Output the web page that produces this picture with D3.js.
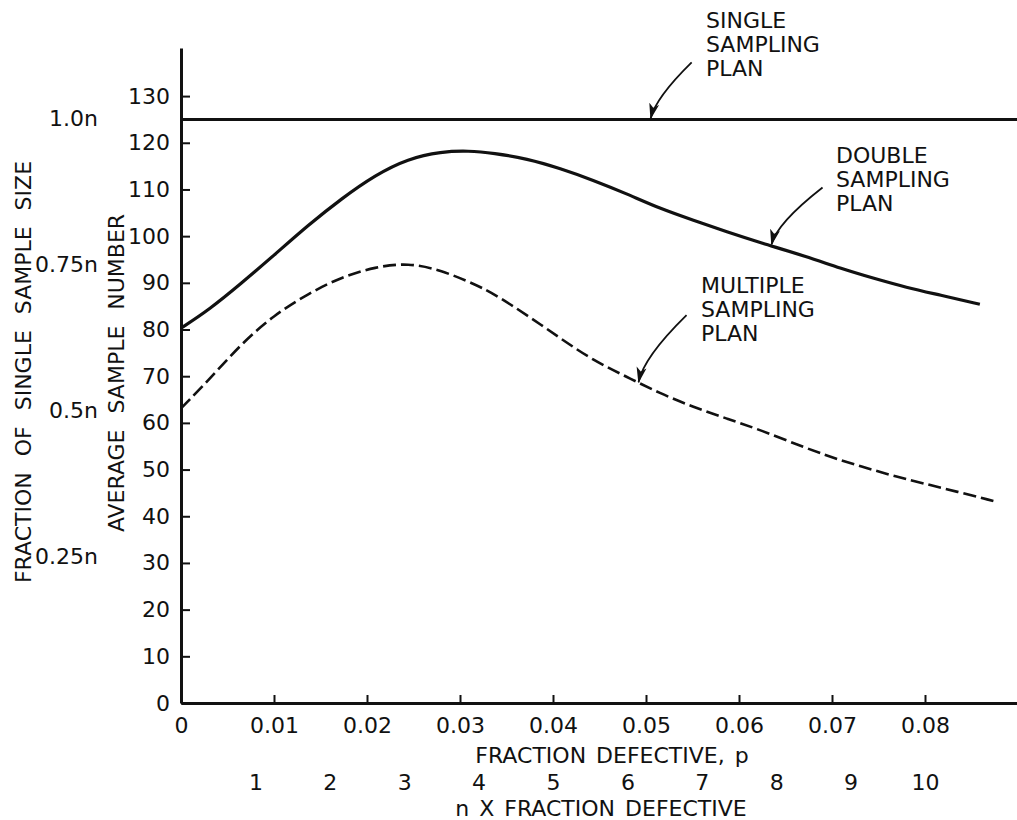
<!DOCTYPE html>
<html>
<head>
<meta charset="utf-8">
<script src="https://cdn.jsdelivr.net/npm/d3@7.9.0/dist/d3.min.js"></script>
<style>
  body { margin: 0; background: #fff; }
  svg { display: block; }
  text { font-family: "DejaVu Sans", sans-serif; font-size: 22px; fill: #111; }
  .axis path, .axis line { stroke: #111; }
</style>
</head>
<body>
<svg id="chart" width="1017" height="820"></svg>
<script>
// === Data (sample size n = 125) ===
const sampleSize = 125;

const doubleP = [0, 0.003, 0.0065, 0.010, 0.0137, 0.0173, 0.0209, 0.0244, 0.028, 0.0309,
  0.0336, 0.0372, 0.0408, 0.0443, 0.0479, 0.0515, 0.0551, 0.0587, 0.0623, 0.0673,
  0.0709, 0.0744, 0.078, 0.0816, 0.0859];
const doubleAsn = [80.3, 84.2, 89.9, 95.9, 102.4, 108.1, 113.1, 116.6, 118.1, 118.3,
  117.8, 116.6, 114.5, 112.0, 109.1, 105.9, 103.4, 100.9, 98.6, 95.6,
  93.1, 91.0, 89.0, 87.4, 85.4];

const multipleP = [0, 0.003, 0.0065, 0.010, 0.0137, 0.0173, 0.0209, 0.0244, 0.028, 0.0316,
  0.0336, 0.0372, 0.0408, 0.0443, 0.0479, 0.0515, 0.0551, 0.0587, 0.0623, 0.0673,
  0.0709, 0.0744, 0.078, 0.0816, 0.0877];
const multipleAsn = [63.1, 69.2, 77.0, 83.1, 87.7, 91.3, 93.4, 94.3, 92.7, 89.7,
  87.7, 83.1, 78.1, 73.4, 69.9, 66.3, 63.4, 60.9, 58.5, 54.5,
  52.0, 49.9, 47.9, 46.2, 43.1];

const singleP = [0, 0.09];

const yTicks = [0, 10, 20, 30, 40, 50, 60, 70, 80, 90, 100, 110, 120, 130];
const xTicks = [0, 0.01, 0.02, 0.03, 0.04, 0.05, 0.06, 0.07, 0.08];
const xTickLabels = ['0', '0.01', '0.02', '0.03', '0.04', '0.05', '0.06', '0.07', '0.08'];
const nTimesP = [1, 2, 3, 4, 5, 6, 7, 8, 9, 10];
const fractions = [0.25, 0.5, 0.75, 1.0];
const fractionLabels = ['0.25n', '0.5n', '0.75n', '1.0n'];

// annotations: label lines + point on curve that the arrow hits
const notes = [
  { lines: ['SINGLE', 'SAMPLING', 'PLAN'], p: 0.0505, v: 125, tx: 706, ty: 28, tail: [41, -57] },
  { lines: ['DOUBLE', 'SAMPLING', 'PLAN'], p: 0.0635, v: 98, tx: 836, ty: 163, tail: [51, -58] },
  { lines: ['MULTIPLE', 'SAMPLING', 'PLAN'], p: 0.0492, v: 68.5, tx: 701, ty: 293, tail: [48, -68] }
];

// === Scales ===
const svg = d3.select('#chart');
const x = d3.scaleLinear().domain([0, 0.09]).range([181, 1018]);
const y = d3.scaleLinear().domain([0, 140.3]).range([703, 48]);

// === Axes ===
const yAxis = svg.append('g')
  .attr('class', 'axis')
  .attr('transform', `translate(${x(0)},0)`)
  .call(d3.axisLeft(y).tickValues(yTicks).tickSizeInner(-9).tickSizeOuter(0).tickPadding(11));
yAxis.select('.domain').attr('stroke-width', 3);
yAxis.selectAll('.tick line').attr('stroke-width', 2);
yAxis.selectAll('.tick text').attr('fill', '#111').style('font-size', '22px');

const xAxis = svg.append('g')
  .attr('class', 'axis')
  .attr('transform', `translate(0,${y(0)})`)
  .call(d3.axisBottom(x).tickValues(xTicks).tickFormat((d, i) => xTickLabels[i])
    .tickSizeInner(-8).tickSizeOuter(0).tickPadding(14));
xAxis.select('.domain').attr('stroke-width', 3);
xAxis.selectAll('.tick line').attr('stroke-width', 2).attr('opacity', (d) => (d === 0 ? 0 : 1));
xAxis.selectAll('.tick text').attr('fill', '#111').style('font-size', '22px');

// second x scale: n x fraction defective
const nAxis = svg.append('g')
  .attr('class', 'axis')
  .attr('transform', `translate(0,${y(0) + 60})`)
  .call(d3.axisBottom(x).tickValues(nTimesP.map((k) => k / sampleSize)).tickFormat((d, i) => nTimesP[i])
    .tickSize(0).tickPadding(11));
nAxis.select('.domain').remove();
nAxis.selectAll('.tick text').attr('fill', '#111').style('font-size', '22px');

// second y scale: fraction of single sample size
svg.append('g')
  .selectAll('text')
  .data(fractions)
  .join('text')
  .attr('x', 98)
  .attr('y', (d) => y(d * sampleSize) - 1)
  .attr('dy', '0.35em')
  .attr('text-anchor', 'end')
  .text((d, i) => fractionLabels[i]);

// axis titles
svg.append('text')
  .attr('x', 612).attr('y', 763).attr('text-anchor', 'middle').style('word-spacing', '3px')
  .text('FRACTION DEFECTIVE, p');
svg.append('text')
  .attr('x', 601).attr('y', 816).attr('text-anchor', 'middle').style('word-spacing', '3px')
  .text('n X FRACTION DEFECTIVE');
svg.append('text')
  .attr('transform', 'translate(124,373) rotate(-90)')
  .attr('text-anchor', 'middle').style('word-spacing', '9px')
  .text('AVERAGE SAMPLE NUMBER');
svg.append('text')
  .attr('transform', 'translate(31,372) rotate(-90)')
  .attr('text-anchor', 'middle').style('word-spacing', '9px')
  .text('FRACTION OF SINGLE SAMPLE SIZE');

// === Curves ===
const line = d3.line().x((d) => x(d[0])).y((d) => y(d[1])).curve(d3.curveBasis);

svg.append('path')
  .attr('d', line(singleP.map((p) => [p, sampleSize])))
  .attr('fill', 'none').attr('stroke', '#111').attr('stroke-width', 3);

svg.append('path')
  .attr('d', line(doubleP.map((p, i) => [p, doubleAsn[i]])))
  .attr('fill', 'none').attr('stroke', '#111').attr('stroke-width', 3.2);

svg.append('path')
  .attr('d', line(multipleP.map((p, i) => [p, multipleAsn[i]])))
  .attr('fill', 'none').attr('stroke', '#111').attr('stroke-width', 2.6)
  .attr('stroke-dasharray', '13,5');

// === Annotations with curved arrows ===
svg.append('defs').append('marker')
  .attr('id', 'arrow')
  .attr('markerUnits', 'userSpaceOnUse')
  .attr('viewBox', '0 -6 16 12')
  .attr('refX', 15).attr('refY', 0)
  .attr('markerWidth', 16).attr('markerHeight', 12)
  .attr('orient', 'auto')
  .append('path')
  .attr('d', 'M0,-5L16,0L0,5L4,0Z')
  .attr('fill', '#111');

notes.forEach((n) => {
  const tipX = x(n.p);
  const tipY = y(n.v);
  const tailX = tipX + n.tail[0];
  const tailY = tipY + n.tail[1];
  const cX = tipX + 5;
  const cY = tipY + n.tail[1] * 0.38;
  svg.append('path')
    .attr('d', `M${tailX},${tailY}Q${cX},${cY} ${tipX},${tipY - 1}`)
    .attr('fill', 'none').attr('stroke', '#111').attr('stroke-width', 1.8)
    .attr('marker-end', 'url(#arrow)');

  svg.append('text')
    .attr('x', n.tx).attr('y', n.ty)
    .selectAll('tspan')
    .data(n.lines)
    .join('tspan')
    .attr('x', n.tx)
    .attr('dy', (d, i) => (i === 0 ? 0 : 24))
    .text((d) => d);
});
</script>
</body>
</html>
